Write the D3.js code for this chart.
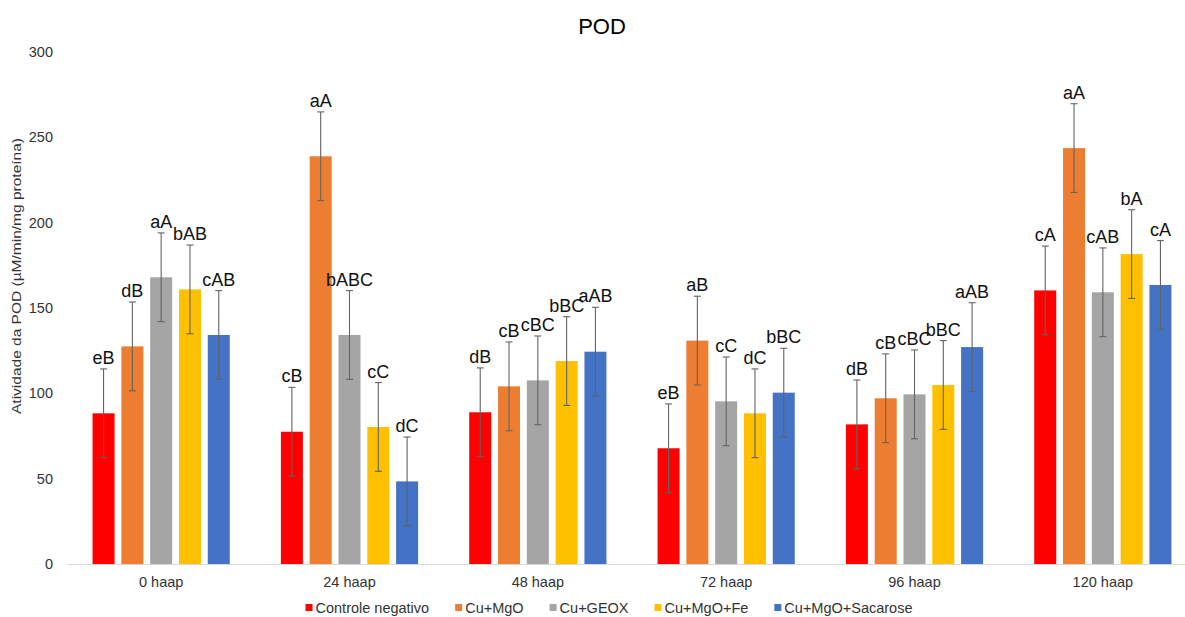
<!DOCTYPE html>
<html>
<head>
<meta charset="utf-8">
<script src="https://cdn.jsdelivr.net/npm/d3@7"></script>
<style>
  html, body { margin: 0; padding: 0; background: #fff; }
  svg { display: block; font-family: "Liberation Sans", Arial, sans-serif; }
</style>
</head>
<body>
<svg id="chart" width="1185" height="617"></svg>
<script>
// POD activity by time after application and treatment
const categories = ["0 haap", "24 haap", "48 haap", "72 haap", "96 haap", "120 haap"];
const seriesNames = ["Controle negativo", "Cu+MgO", "Cu+GEOX", "Cu+MgO+Fe", "Cu+MgO+Sacarose"];
const seriesColors = ["#FF0000", "#ED7D31", "#A5A5A5", "#FFC000", "#4472C4"];

const controleNegativo = [88.3, 77.5, 88.9, 67.8, 81.8, 160.3];
const cuMgO            = [127.5, 238.9, 104.1, 130.9, 97.1, 243.7];
const cuGEOX           = [168.0, 134.2, 107.6, 95.3, 99.4, 159.2];
const cuMgOFe          = [160.9, 80.3, 118.9, 88.3, 104.9, 181.6];
const cuMgOSacarose    = [134.2, 48.4, 124.4, 100.4, 127.1, 163.5];

// standard deviation shown by the error bars
const errorValue = [26, 26, 26, 26, 26, 26];

const lettersControle = ["eB", "cB", "dB", "eB", "dB", "cA"];
const lettersMgO      = ["dB", "aA", "cB", "aB", "cB", "aA"];
const lettersGEOX     = ["aA", "bABC", "cBC", "cC", "cBC", "cAB"];
const lettersFe       = ["bAB", "cC", "bBC", "dC", "bBC", "bA"];
const lettersSacarose = ["cAB", "dC", "aAB", "bBC", "aAB", "cA"];

const yTicks = [0, 50, 100, 150, 200, 250, 300];

const seriesValues = [controleNegativo, cuMgO, cuGEOX, cuMgOFe, cuMgOSacarose];
const seriesLetters = [lettersControle, lettersMgO, lettersGEOX, lettersFe, lettersSacarose];

const svg = d3.select("#chart");

const plotLeft = 67, plotRight = 1197, plotTop = 52, plotBottom = 564;

const x0 = d3.scaleBand().domain(categories).range([plotLeft, plotRight])
  .paddingInner(0.2714).paddingOuter(0.1357);
const x1 = d3.scaleBand().domain(d3.range(seriesNames.length)).range([0, x0.bandwidth()])
  .paddingInner(0.236).paddingOuter(0);
const y = d3.scaleLinear().domain([0, 300]).range([plotBottom, plotTop]);

// title
svg.append("text")
  .attr("x", 602).attr("y", 34)
  .attr("text-anchor", "middle")
  .attr("font-size", 22).attr("fill", "#000")
  .text("POD");

// y axis: labels only
const yAxis = svg.append("g").attr("transform", `translate(${plotLeft},0)`)
  .call(d3.axisLeft(y).tickValues(yTicks).tickSize(0).tickPadding(14));
yAxis.select(".domain").remove();
yAxis.selectAll("text").attr("font-size", 14.5).attr("fill", "#333")
  .attr("font-family", "Liberation Sans, Arial, sans-serif");

// y axis title
svg.append("text")
  .attr("transform", "translate(21,276) rotate(-90)")
  .attr("text-anchor", "middle")
  .attr("font-size", 12.6).attr("fill", "#333")
  .attr("textLength", 276).attr("lengthAdjust", "spacingAndGlyphs")
  .text("Atividade da POD (µM/min/mg proteína)");

// x axis
const xAxis = svg.append("g").attr("transform", `translate(0,${plotBottom})`)
  .call(d3.axisBottom(x0).tickSize(0).tickPadding(13));
xAxis.select(".domain").attr("stroke", "#D9D9D9").attr("stroke-width", 1);
xAxis.selectAll("text").attr("font-size", 14.5).attr("fill", "#333")
  .attr("font-family", "Liberation Sans, Arial, sans-serif");

// bars, error bars and letters
const rows = [];
seriesValues.forEach((vals, s) => {
  vals.forEach((v, i) => rows.push({ s, cat: categories[i], v, e: errorValue[i], label: seriesLetters[s][i] }));
});

const g = svg.append("g");
const cx = d => x0(d.cat) + x1(d.s) + x1.bandwidth() / 2;

g.selectAll("rect.bar").data(rows).join("rect")
  .attr("class", "bar")
  .attr("x", d => x0(d.cat) + x1(d.s))
  .attr("width", x1.bandwidth())
  .attr("y", d => y(d.v))
  .attr("height", d => y(0) - y(d.v))
  .attr("fill", d => seriesColors[d.s]);

const eb = g.selectAll("g.err").data(rows).join("g").attr("class", "err")
  .attr("stroke", "#636363").attr("stroke-width", 1.1);
eb.append("line")
  .attr("x1", cx).attr("x2", cx)
  .attr("y1", d => y(d.v + d.e)).attr("y2", d => y(d.v - d.e));
eb.append("line")
  .attr("x1", d => cx(d) - 3.5).attr("x2", d => cx(d) + 3.5)
  .attr("y1", d => y(d.v + d.e)).attr("y2", d => y(d.v + d.e));
eb.append("line")
  .attr("x1", d => cx(d) - 3.5).attr("x2", d => cx(d) + 3.5)
  .attr("y1", d => y(d.v - d.e)).attr("y2", d => y(d.v - d.e));

g.selectAll("text.lbl").data(rows).join("text")
  .attr("class", "lbl")
  .attr("x", cx)
  .attr("y", d => y(d.v + d.e) - 5)
  .attr("text-anchor", "middle")
  .attr("font-size", 18).attr("fill", "#111")
  .text(d => d.label);

// legend
const legend = svg.append("g");
let lx = 0;
seriesNames.forEach((name, s) => {
  const it = legend.append("g");
  it.append("rect").attr("x", 0).attr("y", -4).attr("width", 7).attr("height", 7).attr("fill", seriesColors[s]);
  const t = it.append("text").attr("x", 10).attr("y", 5)
    .attr("font-size", 14.5).attr("fill", "#333").text(name);
  const w = 10 + t.node().getComputedTextLength();
  it.attr("transform", `translate(${lx},0)`);
  lx += w + 26;
});
const legendWidth = lx - 26;
legend.attr("transform", `translate(${609 - legendWidth / 2},608)`);
</script>
</body>
</html>
